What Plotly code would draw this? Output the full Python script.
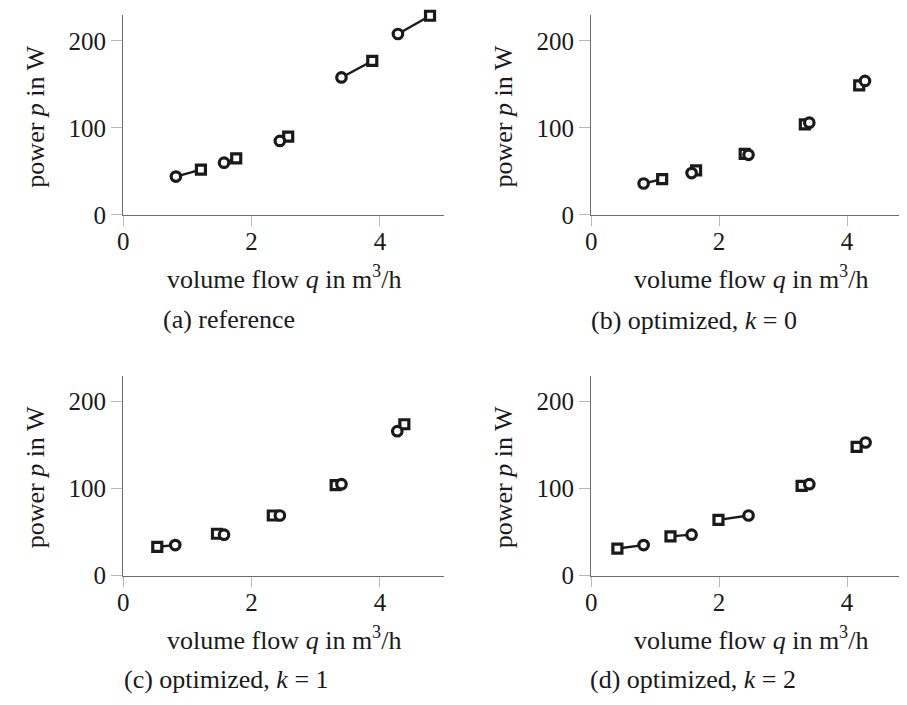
import plotly.graph_objects as go

# ---- data: (circle series, square series) per panel ----
panels = ["(a) reference", "(b) optimized, <i>k</i> = 0",
          "(c) optimized, <i>k</i> = 1", "(d) optimized, <i>k</i> = 2"]

a_circle_q = [0.82, 1.57, 2.44, 3.40, 4.28]
a_circle_p = [44, 60, 85, 158, 208]
a_square_q = [1.21, 1.76, 2.57, 3.88, 4.78]
a_square_p = [52, 65, 90, 177, 229]

b_circle_q = [0.82, 1.57, 2.46, 3.41, 4.28]
b_circle_p = [36, 48, 69, 106, 154]
b_square_q = [1.11, 1.64, 2.40, 3.34, 4.19]
b_square_p = [41, 51, 70, 104, 149]

c_circle_q = [0.81, 1.57, 2.44, 3.40, 4.27]
c_circle_p = [35, 47, 69, 105, 166]
c_square_q = [0.53, 1.46, 2.33, 3.31, 4.38]
c_square_p = [33, 48, 69, 104, 174]

d_circle_q = [0.82, 1.57, 2.46, 3.41, 4.29]
d_circle_p = [35, 47, 69, 105, 153]
d_square_q = [0.41, 1.24, 1.99, 3.29, 4.15]
d_square_p = [31, 45, 64, 103, 148]

x_ticks = [0, 2, 4]
y_ticks = [0, 100, 200]

series = [
    (a_circle_q, a_circle_p, a_square_q, a_square_p),
    (b_circle_q, b_circle_p, b_square_q, b_square_p),
    (c_circle_q, c_circle_p, c_square_q, c_square_p),
    (d_circle_q, d_circle_p, d_square_q, d_square_p),
]

W, H = 907, 705
# plot areas in pixels: (left, right, top, bottom)
boxes = [(110, 433, 7, 211), (581, 903, 7, 211),
         (110, 433, 375, 579), (581, 903, 375, 579)]
caption_pos = [(216, 318), (685, 319), (214, 685), (684, 685)]

FONT = "Liberation Serif"
FS_TICK = 25
FS = 26
INK = "#1a1a1a"

fig = go.Figure()
layout = dict(
    width=W, height=H, margin=dict(l=0, r=0, t=0, b=0),
    paper_bgcolor="white", plot_bgcolor="white", showlegend=False,
    font=dict(family=FONT, size=FS, color=INK),
)
annotations = []

for i, (cq, cp, sq, sp) in enumerate(series):
    n = i + 1
    xa = "x" if n == 1 else f"x{n}"
    ya = "y" if n == 1 else f"y{n}"
    l, r, t, b = boxes[i]
    # connecting segments
    lx, ly = [], []
    for k in range(len(cq)):
        lx += [cq[k], sq[k], None]
        ly += [cp[k], sp[k], None]
    fig.add_trace(go.Scatter(x=lx, y=ly, mode="lines", xaxis=xa, yaxis=ya,
                             cliponaxis=False,
                             line=dict(color=INK, width=2.4), hoverinfo="skip"))
    fig.add_trace(go.Scatter(x=sq, y=sp, mode="markers", xaxis=xa, yaxis=ya,
                             cliponaxis=False,
                             marker=dict(symbol="square", size=9, color="white",
                                         line=dict(color=INK, width=3.2))))
    fig.add_trace(go.Scatter(x=cq, y=cp, mode="markers", xaxis=xa, yaxis=ya,
                             cliponaxis=False,
                             marker=dict(symbol="circle", size=9.5, color="white",
                                         line=dict(color=INK, width=3.2))))
    xkey = "xaxis" if n == 1 else f"xaxis{n}"
    ykey = "yaxis" if n == 1 else f"yaxis{n}"
    layout[xkey] = dict(
        domain=[l / W, r / W], anchor=ya, range=[0, 5], tickvals=x_ticks,
        showgrid=False, zeroline=False, showline=True, linecolor="#6e6e6e",
        linewidth=1.3, ticks="outside", ticklen=10, tickcolor="#b8b8b8",
        tickwidth=1, ticklabelstandoff=-6,
        tickfont=dict(family=FONT, size=FS_TICK, color=INK),
    )
    layout[ykey] = dict(
        domain=[1 - b / H, 1 - t / H], anchor=xa, range=[0, 230], tickvals=y_ticks,
        showgrid=False, zeroline=False, showline=True, linecolor="#6e6e6e",
        linewidth=1.3, ticks="outside", ticklen=11, tickcolor="#b8b8b8",
        tickwidth=1, tickfont=dict(family=FONT, size=FS_TICK, color=INK),
    )
    # x title
    annotations.append(dict(
        text="volume flow <i>q</i> in m<sup>3</sup>/h", xref="paper", yref="paper",
        x=(l + r) / 2 / W, y=1 - (b + 64) / H, xanchor="center", yanchor="middle",
        showarrow=False, font=dict(family=FONT, size=FS, color=INK)))
    # y title
    annotations.append(dict(
        text="power <i>p</i> in W", xref="paper", yref="paper", textangle=-90,
        x=(l - 88) / W, y=1 - ((t + b) / 2 + 2) / H, xanchor="center", yanchor="middle",
        showarrow=False, font=dict(family=FONT, size=FS, color=INK)))
    cx, cy = caption_pos[i]
    annotations.append(dict(
        text=panels[i], xref="paper", yref="paper",
        x=cx / W, y=1 - cy / H, xanchor="center", yanchor="middle",
        showarrow=False, font=dict(family=FONT, size=FS, color=INK)))

layout["annotations"] = annotations
fig.update_layout(**layout)
fig.write_html("out.html")
